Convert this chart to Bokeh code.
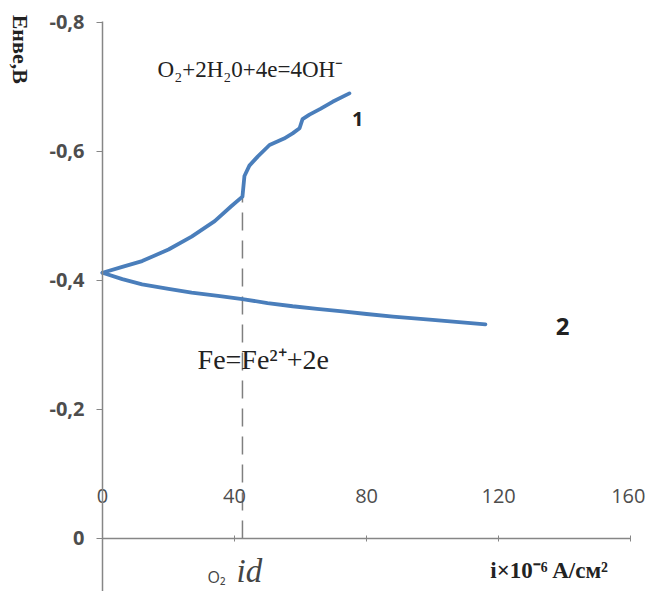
import math
from bokeh.plotting import figure
from bokeh.models import Range1d, FixedTicker, CustomJSTickFormatter, Label
from bokeh.embed import file_html
from bokeh.resources import INLINE

# ---- data ----
x_ticks = [0, 40, 80, 120, 160]
y_ticks = [0, -0.2, -0.4, -0.6, -0.8]

# curve 1: cathodic (oxygen reduction)
i_cath = [0, 6, 12, 20, 27, 34, 39, 42.4, 43, 44.5, 47, 50.6, 55, 57.6, 59.7, 60.6, 62.7, 66, 69.7, 74.8]
E_cath = [-0.412, -0.421, -0.430, -0.448, -0.468, -0.492, -0.515, -0.530, -0.562, -0.578,
          -0.592, -0.610, -0.620, -0.628, -0.636, -0.650, -0.657, -0.666, -0.677, -0.690]

# curve 2: anodic (iron dissolution)
i_anod = [0, 6, 12, 20, 27, 35, 42.4, 50, 57.6, 65, 72.7, 80, 88, 100, 116]
E_anod = [-0.412, -0.402, -0.394, -0.387, -0.381, -0.376, -0.371, -0.365, -0.360,
          -0.356, -0.352, -0.348, -0.344, -0.339, -0.332]

# limiting diffusion current of oxygen
i_d = [42.4, 42.4]
E_d = [0, -0.530]

BLUE = "#4A7EBB"
AXIS = "#868686"
TICK_TXT = "#4d4d4d"
TXT = "#222222"

p = figure(width=645, height=591, output_backend="svg", toolbar_location=None,
           x_range=Range1d(-30.9, 164.5), y_range=Range1d(0.0822, -0.834),
           min_border_left=0, min_border_right=0, min_border_top=0, min_border_bottom=0)
p.outline_line_color = None
p.xgrid.visible = False
p.ygrid.visible = False

# y axis (crosses at x = 0)
p.yaxis.fixed_location = 0
p.yaxis.bounds = (-0.802, 0.0822)
p.yaxis.ticker = FixedTicker(ticks=y_ticks)
p.yaxis.formatter = CustomJSTickFormatter(code="return tick == 0 ? '0' : tick.toFixed(1).replace('.', ',');")
p.yaxis.axis_line_color = AXIS
p.yaxis.axis_line_width = 1.5
p.yaxis.major_tick_line_color = AXIS
p.yaxis.major_tick_out = 6
p.yaxis.major_tick_in = 0
p.yaxis.minor_tick_line_color = None
p.yaxis.major_label_text_font = "Open Sans"
p.yaxis.major_label_text_font_size = "20px"
p.yaxis.major_label_text_font_style = "bold"
p.yaxis.major_label_text_color = TICK_TXT
p.yaxis.major_label_standoff = 12

# x axis (at E = 0); tick labels sit above the axis line
p.xaxis.fixed_location = 0
p.xaxis.bounds = (0, 160)
p.xaxis.ticker = FixedTicker(ticks=x_ticks)
p.xaxis.axis_line_color = AXIS
p.xaxis.axis_line_width = 1.5
p.xaxis.major_tick_line_color = AXIS
p.xaxis.major_tick_out = 3
p.xaxis.major_tick_in = 3
p.xaxis.minor_tick_line_color = None
p.xaxis.major_label_text_font = "Open Sans"
p.xaxis.major_label_text_font_size = "20px"
p.xaxis.major_label_text_color = TICK_TXT
p.xaxis.major_label_standoff = -52

# curves
p.line(i_d, E_d, line_color="#7f7f7f", line_width=1.5, line_dash="18 10")
p.line(i_cath, E_cath, line_color=BLUE, line_width=3.8, line_join="round", line_cap="round")
p.line(i_anod, E_anod, line_color=BLUE, line_width=3.8, line_join="round", line_cap="round")

def lab(x, y, text, **kw):
    opts = dict(text_baseline="middle", text_align="left", text_color=TXT,
                text_font="Liberation Serif", text_font_size="19px")
    opts.update(kw)
    p.add_layout(Label(x=x, y=y, text=text, **opts))

lab(16.7, -0.727, "O₂+2H₂0+4e=4OH⁻", text_font_size="23px")
lab(77.3, -0.650, "1", text_font="Open Sans", text_font_style="bold", text_font_size="20px", text_align="center")
lab(139.4, -0.329, "2", text_font="Open Sans", text_font_style="bold", text_font_size="24px", text_align="center")
lab(28.8, -0.278, "Fe=Fe²⁺+2e", text_font_size="28px")
lab(31.8, 0.060, "O₂", text_font="Open Sans", text_font_size="16px", text_color="#444444")
lab(40.6, 0.050, "id", text_font_style="italic", text_font_size="33px", text_color="#444444")
lab(117.5, 0.050, "i×10⁻⁶ A/см²", text_font_style="bold", text_font_size="23px")
lab(-24.8, -0.812, "Енве,В", text_font_style="bold", text_font_size="22px", angle=-math.pi / 2)

open("out.html", "w").write(file_html(p, INLINE))
